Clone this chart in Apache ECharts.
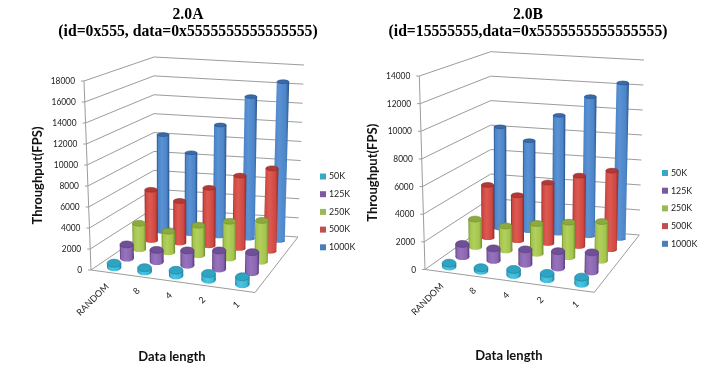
<!DOCTYPE html>
<html><head><meta charset="utf-8">
<style>html,body{margin:0;padding:0;background:#fff}#c{width:713px;height:371px}</style>
<script src="https://cdn.jsdelivr.net/npm/echarts@6/dist/echarts.min.js"></script>
</head><body><div id="c"></div>
<script>
const categories = ['RANDOM','8','4','2','1'];
const seriesNames = ['50K','125K','250K','500K','1000K'];
const ticksA = [0,2000,4000,6000,8000,10000,12000,14000,16000,18000];
const ticksB = [0,2000,4000,6000,8000,10000,12000,14000];
const a50K  = [400,350,500,600,700];
const a125K = [1350,1150,1450,1800,2000];
const a250K = [2600,2100,3000,3700,4100];
const a500K = [5200,4300,5900,7400,8400];
const a1000K= [10200,8500,11600,14750,16500];
const b50K  = [250,220,400,430,480];
const b125K = [950,900,1100,1250,1450];
const b250K = [2150,1870,2300,2650,2950];
const b500K = [4150,3550,4750,5500,6100];
const b1000K= [8200,7250,9450,11100,12350];

const palette = {
 '50K':  {mid:'#3bb6d6',light:'#4cc4e0',dark:'#1f7f9a',cap:'#2fa3c2',sw:'#37a9c4'},
 '125K': {mid:'#8a66b0',light:'#9673bc',dark:'#553a78',cap:'#6f4f96',sw:'#7a5a9e'},
 '250K': {mid:'#a4c44e',light:'#b2d05c',dark:'#6d8a2c',cap:'#8caa3e',sw:'#98b954'},
 '500K': {mid:'#cf4842',light:'#dc5a52',dark:'#8c2a28',cap:'#b23a36',sw:'#c0504d'},
 '1000K':{mid:'#4c85c8',light:'#5a92d4',dark:'#274f85',cap:'#3a6aa8',sw:'#4a7ebb'}
};
const FONT = 'Lato';

function homography(p){
  const [p0,p1,p2,p3]=p;
  const dx1=p1[0]-p2[0],dx2=p3[0]-p2[0],sx=p0[0]-p1[0]+p2[0]-p3[0];
  const dy1=p1[1]-p2[1],dy2=p3[1]-p2[1],sy=p0[1]-p1[1]+p2[1]-p3[1];
  const den=dx1*dy2-dx2*dy1;
  const g=(sx*dy2-dx2*sy)/den,h=(dx1*sy-sx*dy1)/den;
  const a=p1[0]-p0[0]+g*p1[0],b=p3[0]-p0[0]+h*p3[0],c=p0[0];
  const d=p1[1]-p0[1]+g*p1[1],e=p3[1]-p0[1]+h*p3[1],f=p0[1];
  return (u,w)=>{
    const q=g*u+h*w+1, k=0.4;
    const bx=p0[0]*(1-u)*(1-w)+p1[0]*u*(1-w)+p2[0]*u*w+p3[0]*(1-u)*w;
    const by=p0[1]*(1-u)*(1-w)+p1[1]*u*(1-w)+p2[1]*u*w+p3[1]*(1-u)*w;
    return [k*(a*u+b*w+c)/q+(1-k)*bx,k*(d*u+e*w+f)/q+(1-k)*by];
  };
}
function makeProj(box){
  const fl=homography(box.floor), tp=homography(box.top);
  return (u,w,v)=>{const A=fl(u,w),B=tp(u,w);return [A[0]+(B[0]-A[0])*v,A[1]+(B[1]-A[1])*v];};
}
const panels = [
 {title:'2.0A\n(id=0x555, data=0x5555555555555555)',tx:188,ticks:ticksA,max:18000,
  grid:{left:91,top:81,width:162,height:189},nameGap:47,
  box:{floor:[[91,270],[255,292.5],[298,237],[154,227]],top:[[84,81],[259,100],[304,65],[154,57]]},
  legend:{left:320,top:172},
  vals:[a50K,a125K,a250K,a500K,a1000K]},
 {title:'2.0B\n(id=15555555,data=0x5555555555555555)',tx:528,ticks:ticksB,max:14000,
  grid:{left:425,top:76,width:168,height:193.5},nameGap:46,
  box:{floor:[[425,269.5],[594.3,292.3],[639.3,235],[490.7,223]],top:[[419.3,76],[599,94],[644,60],[490.7,51.7]]},
  legend:{left:662,top:168.5},
  vals:[b50K,b125K,b250K,b500K,b1000K]}
];
function norm(api,params,cat,val){
  const cs=params.coordSys, c=api.coord([cat,val]);
  return [(c[0]-cs.x)/cs.width,(cs.y+cs.height-c[1])/cs.height];
}
const lineStyle={stroke:'#9c9c9c',lineWidth:1};
const option={animation:false,backgroundColor:'#fff',title:[],legend:[],grid:[],xAxis:[],yAxis:[],series:[]};
panels.forEach((P,pi)=>{
  const proj=makeProj(P.box);
  option.title.push({text:P.title,left:P.tx,top:6,padding:0,textAlign:'center',
    textStyle:{fontFamily:'Liberation Serif',fontWeight:'bold',fontSize:15.7,lineHeight:17,color:'#000'}});
  option.legend.push({orient:'vertical',left:P.legend.left,top:P.legend.top,padding:0,itemWidth:6,itemHeight:6,itemGap:8.7,
    selectedMode:false,icon:'rect',data:seriesNames,textStyle:{fontFamily:FONT,fontSize:8.8,color:'#222',padding:[0,0,0,-2]}});
  option.grid.push(Object.assign({containLabel:false},P.grid));
  option.xAxis.push({type:'category',gridIndex:pi,data:categories,name:'Data length',nameLocation:'middle',nameGap:80,
    nameTextStyle:{fontFamily:FONT,fontWeight:'bold',fontSize:13,color:'#111'},
    axisLine:{show:false},axisTick:{show:false},axisLabel:{show:false},splitLine:{show:false}});
  option.yAxis.push({type:'value',gridIndex:pi,min:0,max:P.max,interval:2000,name:'Throughput(FPS)',nameLocation:'middle',nameGap:P.nameGap,
    nameTextStyle:{fontFamily:FONT,fontWeight:'bold',fontSize:13,color:'#111'},
    axisLine:{show:false},axisTick:{show:false},axisLabel:{show:false},splitLine:{show:false}});
  option.series.push({type:'custom',xAxisIndex:pi,yAxisIndex:pi,silent:true,
    data:P.ticks.map(t=>[0,t]),
    renderItem(params,api){
      const t=api.value(1), v=norm(api,params,0,t)[1];
      const f=proj(0,0,v), b=proj(0,1,v), r=proj(1,1,v);
      const ch=[
        {type:'polyline',shape:{points:[f,b,r]},style:Object.assign({fill:null},lineStyle)},
        {type:'line',shape:{x1:f[0]-3,y1:f[1],x2:f[0],y2:f[1]},style:lineStyle},
        {type:'text',x:f[0]-9,y:f[1],scaleX:0.88,style:{text:String(t),align:'right',verticalAlign:'middle',fontFamily:FONT,fontSize:9.5,fill:'#222'}}
      ];
      if(t===0){
        const fr=proj(1,0,0), ft=proj(0,0,1);
        ch.push({type:'polyline',shape:{points:[ft,f,fr,r]},style:Object.assign({fill:null},lineStyle)});
      }
      return {type:'group',children:ch};
    }});
  option.series.push({type:'custom',xAxisIndex:pi,yAxisIndex:pi,silent:true,
    data:categories.map((c,i)=>[i,0]),
    renderItem(params,api){
      const i=api.value(0), u=norm(api,params,i,0)[0], p=proj(u,0,0);
      return {type:'text',x:p[0]+1,y:p[1]+13,rotation:Math.PI/4,
        style:{text:categories[i],align:'right',verticalAlign:'middle',fontFamily:FONT,fontSize:9,fill:'#222'}};
    }});
  for(let j=seriesNames.length-1;j>=0;j--){
    const name=seriesNames[j], pal=palette[name], w=(j+0.5)/seriesNames.length;
    option.series.push({type:'custom',name,xAxisIndex:pi,yAxisIndex:pi,silent:true,
      itemStyle:{color:pal.sw},
      data:P.vals[j].map((v,i)=>[i,v]),
      renderItem(params,api){
        const i=api.value(0), val=api.value(1), n=norm(api,params,i,val);
        const b=proj(n[0],w,0), t=proj(n[0],w,n[1]);
        const rx=7.3-1.2*w, ry=4.2-2.6*w, dx=1.5*(1-n[0]);
        const grad={type:'linear',x:0,y:0,x2:1,y2:0,colorStops:[
          {offset:0,color:pal.dark},{offset:0.12,color:pal.mid},{offset:0.4,color:pal.light},
          {offset:0.8,color:pal.mid},{offset:1,color:pal.dark}]};
        b[0]+=dx; t[0]+=dx;
        return {type:'group',children:[
          {type:'ellipse',shape:{cx:b[0],cy:b[1],rx,ry},style:{fill:grad}},
          {type:'polygon',shape:{points:[[b[0]-rx,b[1]],[b[0]+rx,b[1]],[t[0]+rx,t[1]],[t[0]-rx,t[1]]]},style:{fill:grad}},
          {type:'ellipse',shape:{cx:t[0],cy:t[1],rx:rx-0.3,ry},style:{fill:pal.cap,stroke:pal.dark,lineWidth:0.6}}
        ]};
      }});
  }
});
echarts.init(document.getElementById('c'),null,{renderer:'canvas'}).setOption(option);
</script></body></html>
